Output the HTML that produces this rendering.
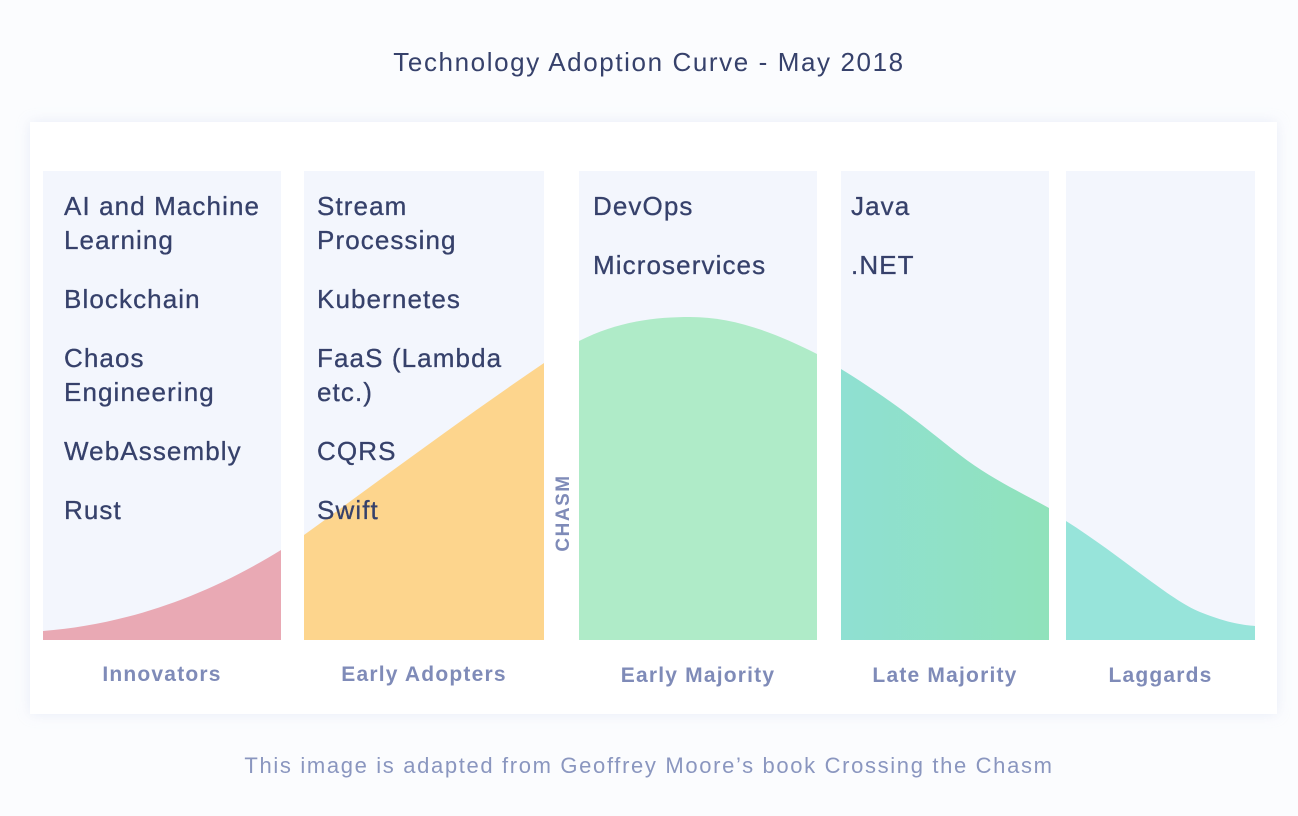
<!DOCTYPE html>
<html><head><style>
html,body{margin:0;padding:0;}
body{width:1298px;height:816px;background:#fbfcfe;position:relative;font-family:"Liberation Sans",sans-serif;overflow:hidden;}
.title{position:absolute;left:0;width:1298px;top:47px;text-align:center;font-size:26px;color:#36416b;letter-spacing:1.6px;}
.card{position:absolute;left:30px;top:122px;width:1247px;height:592px;background:#fff;box-shadow:0 0 12px rgba(200,210,235,0.35);}
.col{position:absolute;top:171px;height:469px;background:#f3f6fd;}
.items{position:absolute;top:189px;font-size:26px;line-height:34px;color:#36416b;letter-spacing:1.1px;-webkit-text-stroke:0.3px #36416b;}
.items div{margin-bottom:25px;}
.lab{position:absolute;top:663px;font-size:21px;font-weight:bold;color:#7f8bb8;text-align:center;letter-spacing:1.2px;}
.foot{position:absolute;left:0;width:1298px;top:753px;text-align:center;font-size:22px;color:#8a96bf;letter-spacing:1.65px;}
svg{position:absolute;left:0;top:0;}
</style></head><body>
<div class="title">Technology Adoption Curve - May 2018</div>
<div class="card"></div>
<div class="col" style="left:43px;width:238px"></div>
<div class="col" style="left:304px;width:240px"></div>
<div class="col" style="left:579px;width:238px"></div>
<div class="col" style="left:841px;width:208px"></div>
<div class="col" style="left:1066px;width:189px"></div>
<svg width="1298" height="816">
<defs>
<linearGradient id="lm" x1="0" x2="1"><stop offset="0" stop-color="#8fe0d2"/><stop offset="1" stop-color="#90e2bb"/></linearGradient>
</defs>
<path d="M43,631 C120,625 200,600 281,550 L281,640 L43,640Z" fill="#e9a9b4"/>
<path d="M304,535 C380,480 460,420 544,363 L544,640 L304,640Z" fill="#fdd58d"/>
<path d="M579,341 C620,320 660,317 690,317 C730,317 770,330 817,354 L817,640 L579,640Z" fill="#afebc8"/>
<path d="M841,369 C900,405 940,440 960,455 C990,478 1020,492 1049,508 L1049,640 L841,640Z" fill="url(#lm)"/>
<path d="M1066,521 C1120,555 1170,600 1200,612 C1230,624 1245,625 1255,626 L1255,640 L1066,640Z" fill="#97e4da"/>
<text x="569" y="513" transform="rotate(-90 569 513)" text-anchor="middle" font-family="Liberation Sans" font-weight="bold" font-size="19" fill="#7f8bb8" letter-spacing="1.5">CHASM</text>
</svg>
<div class="items" style="left:64px"><div>AI and Machine<br>Learning</div><div>Blockchain</div><div>Chaos<br>Engineering</div><div>WebAssembly</div><div>Rust</div></div>
<div class="items" style="left:317px"><div>Stream<br>Processing</div><div>Kubernetes</div><div>FaaS (Lambda<br>etc.)</div><div>CQRS</div><div>Swift</div></div>
<div class="items" style="left:593px"><div>DevOps</div><div>Microservices</div></div>
<div class="items" style="left:851px"><div>Java</div><div>.NET</div></div>
<div class="lab" style="left:43px;width:238px">Innovators</div>
<div class="lab" style="left:304px;width:240px">Early Adopters</div>
<div class="lab" style="left:579px;width:238px;top:664px">Early Majority</div>
<div class="lab" style="left:841px;width:208px;top:664px">Late Majority</div>
<div class="lab" style="left:1066px;width:189px;top:664px">Laggards</div>
<div class="foot">This image is adapted from Geoffrey Moore’s book Crossing the Chasm</div>
</body></html>
